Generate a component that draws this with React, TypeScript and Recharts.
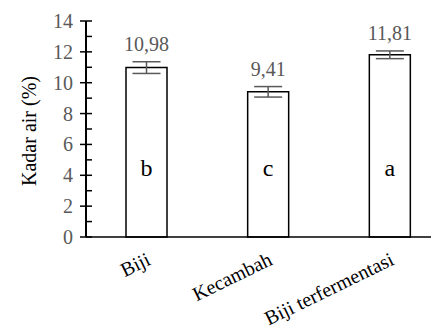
import React from "react";
import { BarChart, Bar, XAxis, YAxis, ErrorBar, LabelList } from "recharts";

const categories = ["Biji", "Kecambah", "Biji terfermentasi"];
const values = [10.98, 9.41, 11.81];
const errors = [0.38, 0.34, 0.25];
const valueLabels = ["10,98", "9,41", "11,81"];
const letters = ["b", "c", "a"];
const yTicks = [0, 1, 2, 3, 4, 5, 6, 7, 8, 9, 10, 11, 12, 13, 14];

const data = categories.map((name, i) => ({
  name,
  value: values[i],
  err: errors[i],
}));

const FONT = "Times New Roman";
const GRAY = "#595959";

const YTick = (props: any) => {
  const { x, y, payload } = props;
  const v = payload.value as number;
  if (v % 2 === 0) {
    return (
      <g>
        <line x1={x - 6} x2={x + 6} y1={y} y2={y} stroke="#000" strokeWidth={1.5} />
        <text x={x - 13} y={y + 7} textAnchor="end" fontFamily={FONT} fontSize={20} fill={GRAY}>
          {v}
        </text>
      </g>
    );
  }
  return <line x1={x} x2={x + 6} y1={y} y2={y} stroke="#000" strokeWidth={1.5} />;
};

const XTick = (props: any) => {
  const { x, y, payload } = props;
  const tx = x + 5;
  const ty = y + 27;
  return (
    <text x={tx} y={ty} textAnchor="end" transform={`rotate(-26, ${tx}, ${ty})`} fontFamily={FONT} fontSize={20}>
      {payload.value}
    </text>
  );
};

const ValueLabel = (props: any) => {
  const { x, y, width, height, index } = props;
  const pxPerUnit = height / values[index];
  const top = y - errors[index] * pxPerUnit;
  return (
    <text x={x + width / 2} y={top - 11} textAnchor="middle" fontFamily={FONT} fontSize={20} fill={GRAY}>
      {valueLabels[index]}
    </text>
  );
};

const LetterLabel = (props: any) => {
  const { x, y, width, height, index } = props;
  return (
    <text x={x + width / 2} y={y + height - 61} textAnchor="middle" fontFamily={FONT} fontSize={24}>
      {letters[index]}
    </text>
  );
};

const YTitle = (props: any) => {
  const { viewBox } = props;
  const cx = 28;
  const cy = viewBox.y + viewBox.height / 2 + 2;
  return (
    <text x={cx} y={cy} textAnchor="middle" transform={`rotate(-90, ${cx}, ${cy})`} fontFamily={FONT} fontSize={20}>
      Kadar air (%)
    </text>
  );
};

export default function App() {
  return (
    <div>
      <BarChart width={431} height={325} data={data} margin={{ top: 13, right: 0, left: 0, bottom: 0 }}>
        <XAxis
          dataKey="name"
          interval={0}
          tickLine={false}
          tickSize={0}
          tickMargin={0}
          height={96}
          padding={{ left: 0, right: -12 }}
          axisLine={{ stroke: "#000", strokeWidth: 1.5 }}
          tick={<XTick />}
        />
        <YAxis
          width={78}
          domain={[0, 14]}
          ticks={yTicks}
          interval={0}
          tickLine={false}
          tickSize={0}
          tickMargin={0}
          axisLine={{ stroke: "#000", strokeWidth: 2 }}
          tick={<YTick />}
          label={<YTitle />}
        />
        <Bar dataKey="value" fill="#fff" stroke="#000" strokeWidth={1.5} barSize={41} isAnimationActive={false}>
          <ErrorBar dataKey="err" width={14} stroke={GRAY} strokeWidth={1.5} />
          <LabelList dataKey="value" content={<ValueLabel />} />
          <LabelList dataKey="value" content={<LetterLabel />} />
        </Bar>
      </BarChart>
    </div>
  );
}
